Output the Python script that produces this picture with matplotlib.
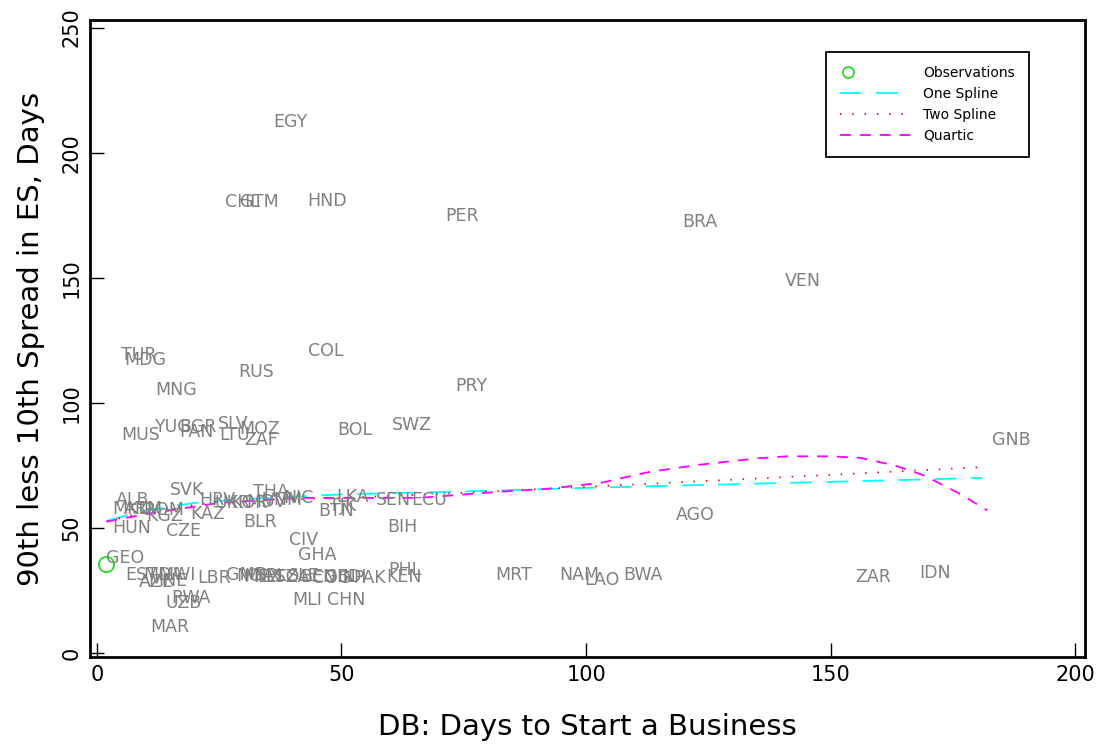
import matplotlib
matplotlib.use("Agg")
import matplotlib.pyplot as plt
from matplotlib.legend_handler import HandlerLine2D

# country observations: days to start a business vs 90-10 spread in ES
countries = ["EGY", "CHL", "GTM", "HND", "PER", "BRA", "VEN", "GNB", "COL", "PRY",
             "RUS", "TUR", "MDG", "MNG", "MUS", "YUG", "BGR", "PAN", "SLV", "LTU",
             "MOZ", "ZAF", "BOL", "SWZ", "SVK", "ALB", "MKD", "ARM", "ROM", "KGZ",
             "KAZ", "HUN", "CZE", "HRV", "UKR", "KOR", "MDV", "VNM", "NIC", "THA",
             "BLR", "CIV", "GHA", "BTN", "TJK", "LKA", "SEN", "ECU", "BIH", "AGO",
             "GEO", "EST", "AZE", "MDA", "MNE", "MWI", "LBR", "UZB", "RWA", "MAR",
             "GMB", "NGA", "MEX", "NPL", "LSO", "TZA", "SLE", "BEN", "COG", "GIN",
             "BDI", "PAK", "PHL", "KEN", "MLI", "CHN", "MRT", "NAM", "LAO", "BWA",
             "ZAR", "IDN"]
days = [36.1, 26.1, 29.2, 43.1, 71.2, 119.6, 140.6, 182.9, 43.1, 73.3,
        29.0, 4.9, 5.7, 12.0, 4.9, 11.8, 16.9, 16.9, 24.7, 25.1,
        29.2, 30.2, 49.2, 60.2, 14.9, 3.9, 3.1, 5.5, 9.5, 10.2,
        19.0, 3.1, 14.1, 21.0, 24.0, 27.5, 30.5, 34.0, 38.0, 32.0,
        30.0, 39.2, 41.2, 45.3, 47.5, 49.0, 57.0, 64.3, 59.4, 118.4,
        1.8, 5.9, 8.6, 9.5, 10.5, 12.5, 20.5, 14.1, 15.3, 11.0,
        26.5, 28.5, 30.0, 32.0, 34.5, 36.5, 39.0, 41.5, 44.0, 46.5,
        49.0, 52.5, 59.6, 59.2, 40.0, 47.1, 81.4, 94.5, 99.6, 107.6,
        154.9, 168.0]
spread = [210.0, 178.0, 178.0, 178.6, 172.6, 170.0, 146.6, 82.8, 118.6, 104.6,
          110.0, 116.8, 114.8, 102.8, 84.8, 88.0, 88.0, 86.0, 89.2, 84.8,
          87.2, 82.8, 86.8, 88.8, 62.8, 58.8, 55.4, 55.4, 55.0, 52.6,
          53.4, 47.6, 46.4, 58.8, 57.6, 57.6, 58.0, 59.0, 59.8, 62.0,
          50.0, 42.8, 36.8, 54.6, 56.6, 60.0, 58.8, 58.8, 48.0, 52.8,
          35.6, 28.8, 26.0, 28.8, 26.4, 28.8, 27.6, 17.6, 19.6, 8.0,
          29.0, 28.6, 28.0, 28.6, 28.0, 28.0, 28.4, 28.0, 27.6, 28.0,
          28.0, 27.6, 30.8, 28.0, 18.8, 18.8, 28.8, 28.8, 26.8, 28.8,
          28.0, 29.6]

# fitted curves
one_x = [2, 10, 20, 31, 50, 76, 100, 150, 181]
one_y = [52.8, 57.0, 60.0, 61.6, 63.4, 64.6, 66.0, 68.4, 70.0]
two_x = [2, 10, 25, 50, 75, 100, 125, 150, 182]
two_y = [52.5, 56.5, 60.5, 62.0, 64.0, 66.4, 68.8, 71.2, 74.4]
quart_x = [2, 10, 25, 41, 50, 66, 82, 92, 103, 113, 123, 135, 141, 150, 156, 163, 169, 176, 182]
quart_y = [52.5, 55.5, 60.0, 62.0, 62.0, 62.0, 64.4, 65.6, 68.0, 72.4, 75.2, 77.8, 78.6, 78.6, 78.0, 75.0, 71.0, 64.0, 57.0]


class LeftMarker(HandlerLine2D):
    # put the legend marker near the left end of the handle
    def get_xdata(self, legend, xdescent, ydescent, width, height, fontsize):
        m = -xdescent + 0.12 * width
        return [m - 1, m + 1], [m]


fig = plt.figure(figsize=(11.04, 7.44), dpi=100)
ax = fig.add_axes([0.0815, 0.117, 0.9015, 0.856])

# only the GEO observation carries a visible marker in the original
g = countries.index("GEO")
obs, = ax.plot([days[g]], [spread[g]], "o", ms=11, mfc="none", mec="#22dd22", mew=1.3,
               label="Observations")
for c, x, y in zip(countries, days, spread):
    ax.annotate(c, (x, y), xytext=(0, 4), textcoords="offset points",
                ha="left", va="center", fontsize=12.5, color="#808080")

ax.plot(one_x, one_y, color="cyan", lw=1.3, dashes=(12, 8), label="One Spline")
ax.plot(two_x, two_y, color="red", lw=1.3, dashes=(0.8, 6), label="Two Spline")
ax.plot(quart_x, quart_y, color="magenta", lw=1.3, dashes=(6, 5), label="Quartic")

ax.set_xlim(-1.4, 202)
ax.set_ylim(-1.6, 253)
ax.set_xticks([0, 50, 100, 150, 200])
ax.set_yticks([0, 50, 100, 150, 200, 250])
ax.tick_params(direction="in", length=10, width=1, labelsize=15, pad=6)
for lab in ax.get_yticklabels():
    lab.set_rotation(90)
    lab.set_va("center")
for s in ax.spines.values():
    s.set_linewidth(2)

ax.set_xlabel("DB: Days to Start a Business", fontsize=21, labelpad=20)
ax.set_ylabel("90th less 10th Spread in ES, Days", fontsize=21, labelpad=12)

leg = ax.legend(loc="upper right", bbox_to_anchor=(0.943, 0.95), borderaxespad=0,
                fontsize=10, handlelength=5.2, handletextpad=0.8,
                fancybox=False, edgecolor="black", framealpha=1,
                borderpad=1.0, labelspacing=0.5,
                handler_map={obs: LeftMarker(numpoints=1)})
leg.get_frame().set_linewidth(1.3)
leg.legend_handles[0].set_markersize(8)

fig.savefig("out.png", dpi=100)
